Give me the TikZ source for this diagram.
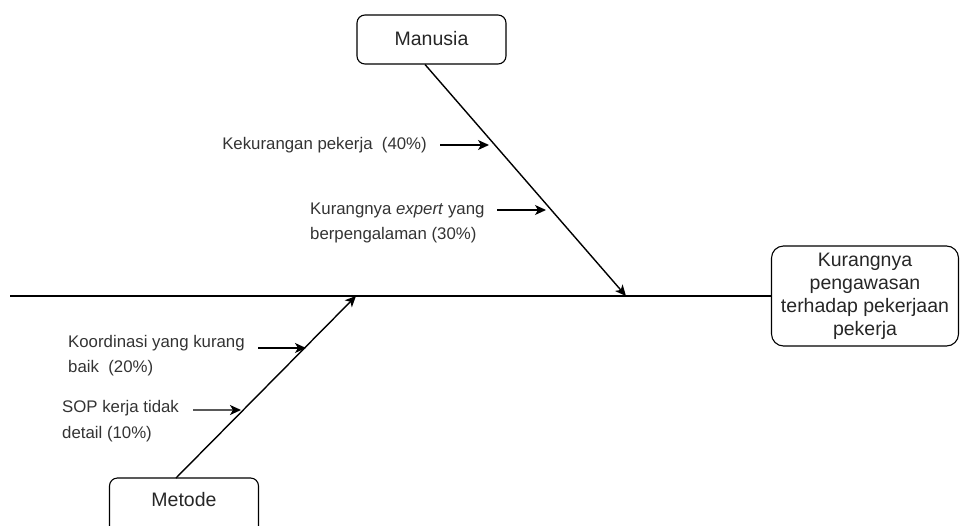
\documentclass[tikz,border=0pt]{standalone}
\usepackage{fontspec}
\setmainfont{Liberation Sans}
\usetikzlibrary{arrows.meta}
\begin{document}
\begin{tikzpicture}[x=1pt,y=-1pt,
  bone/.style={line width=1.4pt,-{Stealth[length=11pt,width=10pt,inset=3pt]}},
  catbox/.style={draw,line width=1.1pt,rounded corners=8pt,minimum width=149pt,minimum height=49pt,inner sep=0pt,font=\fontsize{19.5}{23}\selectfont,text=black!85},
  cause/.style={inner sep=0pt,align=left,font=\fontsize{16.8}{25.5}\selectfont,text=black!80}]
\clip (0,0) rectangle (960,525);
\useasboundingbox (0,0) rectangle (960,525);

% effect box at the head of the fish
\node[draw,line width=1.1pt,rounded corners=12pt,minimum width=187pt,minimum height=100pt,inner sep=0pt,align=center,
      font=\fontsize{19.5}{23}\selectfont,text=black!85] (effect) at (865,296)
  {Kurangnya\\pengawasan\\terhadap pekerjaan\\pekerja};

% spine
\coordinate (tail) at (10,296);
\draw[line width=1.4pt] (tail) -- (effect.west);

% category boxes
\node[catbox] (manusia) at (431.5,39.5) {};
\node[text=black!85,font=\fontsize{19.5}{23}\selectfont] (manusiaT) at (431.5,39) {Manusia};
\node[catbox,minimum height=62pt] (metode) at (184,509) {};
\node[text=black!85,font=\fontsize{19.5}{23}\selectfont] (metodeT) at (184,500) {Metode};

% main bones
\coordinate (mTop) at (425,64.5);
\coordinate (mHit) at (626,296);
\draw[bone] (mTop) -- (mHit);
\coordinate (dBot) at (176,478);
\coordinate (dHit) at (356,296);
\draw[bone] (dBot) -- (dHit);

% causes
\node[cause,anchor=east] (c1) at (427,145) {Kekurangan pekerja\ \ (40\%)};
\node[cause,anchor=west] (c2) at (310,223) {Kurangnya \textit{expert} yang\\berpengalaman (30\%)};
\node[cause,anchor=west] (c3) at (68,355.5) {Koordinasi yang kurang\\baik\ \ (20\%)};
\node[cause,anchor=west] (c4) at (62,421) {SOP kerja tidak\\detail (10\%)};

% cause arrows
\coordinate (a1s) at (440,145); \coordinate (a1e) at (489,145);
\coordinate (a2s) at (497,210); \coordinate (a2e) at (546,210);
\coordinate (a3s) at (258,348); \coordinate (a3e) at (306,348);
\coordinate (a4s) at (193,410); \coordinate (a4e) at (241,410);
\draw[bone] (a1s) -- (a1e);
\draw[bone] (a2s) -- (a2e);
\draw[bone] (a3s) -- (a3e);
\draw[line width=1.8pt,draw=black!65,-{Stealth[length=11pt,width=10pt,inset=3pt,black]}] (a4s) -- (a4e);
\end{tikzpicture}
\end{document}
